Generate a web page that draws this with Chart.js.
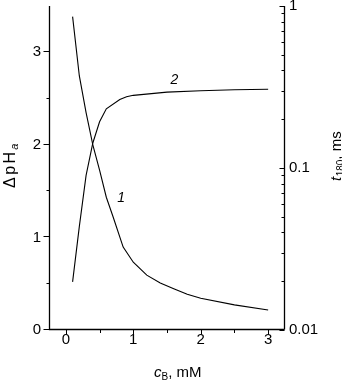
<!DOCTYPE html>
<html><head><meta charset="utf-8">
<script src="https://cdn.jsdelivr.net/npm/chart.js@4"></script>
<style>html,body{margin:0;padding:0;background:#fff}</style>
</head><body>
<canvas id="c" width="342" height="380" style="width:342px;height:380px;display:block"></canvas>
<script>
// Curve 1: t180 (ms), right log axis
const curve1C = [0.1, 0.2, 0.3, 0.4, 0.5, 0.6, 0.7, 0.85, 1.0, 1.2, 1.4, 1.6, 1.8, 2.0, 2.5, 3.0];
const curve1T = [0.86, 0.37, 0.22, 0.139, 0.097, 0.066, 0.05, 0.0325, 0.0262, 0.0218, 0.0195, 0.018, 0.0166, 0.0157, 0.0143, 0.0133];
// Curve 2: ΔpH_a, left linear axis
const curve2C = [0.1, 0.2, 0.3, 0.4, 0.5, 0.6, 0.8, 0.9, 1.0, 1.5, 2.0, 2.5, 3.0];
const curve2DpH = [0.52, 1.12, 1.67, 2.02, 2.25, 2.39, 2.49, 2.52, 2.535, 2.57, 2.585, 2.595, 2.60];
const xTicks = [0, 1, 2, 3];
const xMinorTicks = [0.5, 1.5, 2.5];
const leftTicks = [0, 1, 2, 3];
const leftMinorTicks = [0.5, 1.5, 2.5];
const rightTicks = [0.01, 0.1, 1];
const curveLabels = [{text: '1', c: 0.82, v: 1.43}, {text: '2', c: 1.61, v: 2.70}];

const FONT = '"Liberation Sans", Arial, Helvetica, sans-serif';

function toPts(xs, ys) { return xs.map((x, i) => ({x: x, y: ys[i]})); }

function spaced(ctx, str, x, y, gap) {
  for (const ch of str) { ctx.fillText(ch, x, y); x += ctx.measureText(ch).width + gap; }
  return x;
}

const decor = {
  id: 'decor',
  afterDraw(chart) {
    const ctx = chart.ctx;
    const a = chart.chartArea;
    const sx = chart.scales.x, sy = chart.scales.y, s2 = chart.scales.y2;
    ctx.save();
    ctx.strokeStyle = '#000';
    ctx.lineWidth = 1.3;
    const L = a.left + 0.5, R = a.right - 0.5, B = a.bottom - 0.5, T = a.top;
    ctx.beginPath();
    ctx.moveTo(L, T); ctx.lineTo(L, B); ctx.lineTo(R, B);
    ctx.moveTo(R, T); ctx.lineTo(R, B);
    ctx.stroke();
    ctx.lineWidth = 1;
    ctx.beginPath();
    leftTicks.forEach(v => { const y = Math.round(sy.getPixelForValue(v)) - 0.5; ctx.moveTo(L - 6, y); ctx.lineTo(L, y); });
    leftMinorTicks.forEach(v => { const y = Math.round(sy.getPixelForValue(v)) - 0.5; ctx.moveTo(L - 3, y); ctx.lineTo(L, y); });
    xTicks.forEach(v => { const x = Math.round(sx.getPixelForValue(v)) + 0.5; ctx.moveTo(x, B); ctx.lineTo(x, B + 5); });
    xMinorTicks.forEach(v => { const x = Math.round(sx.getPixelForValue(v)) + 0.5; ctx.moveTo(x, B); ctx.lineTo(x, B + 3.5); });
    rightTicks.forEach(v => { const y = Math.round(s2.getPixelForValue(v)) + 0.5; ctx.moveTo(R - 5, y); ctx.lineTo(R, y); });
    for (let d = 0.01; d < 1; d *= 10) {
      for (let k = 2; k <= 9; k++) {
        const y = Math.round(s2.getPixelForValue(d * k)) + 0.5;
        ctx.moveTo(R - 3, y); ctx.lineTo(R, y);
      }
    }
    ctx.stroke();

    ctx.fillStyle = '#000';
    ctx.font = 'italic 14px ' + FONT;
    ctx.textAlign = 'center'; ctx.textBaseline = 'middle';
    curveLabels.forEach(l => ctx.fillText(l.text, sx.getPixelForValue(l.c), sy.getPixelForValue(l.v)));

    ctx.textAlign = 'left'; ctx.textBaseline = 'alphabetic';
    let x = 154, yb = 377;
    ctx.font = 'italic 15px ' + FONT; ctx.fillText('c', x, yb); x += ctx.measureText('c').width;
    ctx.font = '10px ' + FONT; ctx.fillText('B', x, yb + 3); x += ctx.measureText('B').width;
    ctx.font = '15px ' + FONT; ctx.fillText(', mM', x, yb);

    ctx.save();
    ctx.translate(15, 188);
    ctx.rotate(-Math.PI / 2);
    ctx.font = '16px ' + FONT;
    x = spaced(ctx, 'ΔpH', 0, 0, 2.5);
    ctx.font = 'italic 11px ' + FONT; ctx.fillText('a', x - 0.5, 3);
    ctx.restore();

    ctx.save();
    ctx.translate(341, 181);
    ctx.rotate(-Math.PI / 2);
    x = 0;
    ctx.font = 'italic 15px ' + FONT; ctx.fillText('t', x, 0); x += ctx.measureText('t').width + 0.5;
    ctx.font = '10px ' + FONT; ctx.fillText('180', x, 3); x += ctx.measureText('180').width;
    ctx.font = '15px ' + FONT; ctx.fillText(', ms', x, 0);
    ctx.restore();
    ctx.restore();
  }
};

new Chart(document.getElementById('c'), {
  type: 'line',
  data: {
    datasets: [
      {label: 't180', data: toPts(curve1C, curve1T), yAxisID: 'y2', borderColor: '#000', borderWidth: 1.1, pointRadius: 0, tension: 0, fill: false},
      {label: 'dpH', data: toPts(curve2C, curve2DpH), yAxisID: 'y', borderColor: '#000', borderWidth: 1.1, pointRadius: 0, tension: 0, fill: false}
    ]
  },
  options: {
    responsive: false,
    devicePixelRatio: 1,
    animation: false,
    layout: {padding: {top: 6, left: 0, right: 0, bottom: 0}},
    plugins: {legend: {display: false}, tooltip: {enabled: false}},
    scales: {
      x: {
        type: 'linear', min: -0.25, max: 3.25,
        afterBuildTicks: s => { s.ticks = xTicks.map(v => ({value: v})); },
        afterFit: s => { s.height = 50; s.paddingLeft = 0; s.paddingRight = 0; },
        grid: {display: false, drawTicks: false, tickLength: 0},
        border: {display: false},
        ticks: {color: '#000', font: {family: FONT, size: 15}, padding: 1, maxRotation: 0}
      },
      y: {
        type: 'linear', position: 'left', min: 0, max: 3.5,
        afterBuildTicks: s => { s.ticks = leftTicks.map(v => ({value: v})); },
        afterFit: s => { s.width = 49; s.paddingTop = 0; s.paddingBottom = 0; },
        grid: {display: false, drawTicks: false, tickLength: 0},
        border: {display: false},
        ticks: {color: '#000', font: {family: FONT, size: 15}, padding: 8}
      },
      y2: {
        type: 'logarithmic', position: 'right', min: 0.01, max: 1,
        afterBuildTicks: s => { s.ticks = rightTicks.map(v => ({value: v})); },
        afterFit: s => { s.width = 57; s.paddingTop = 0; s.paddingBottom = 0; },
        grid: {display: false, drawTicks: false, tickLength: 0},
        border: {display: false},
        ticks: {color: '#000', font: {family: FONT, size: 15}, padding: 4, callback: v => String(v)}
      }
    }
  },
  plugins: [decor]
});
</script>
</body></html>
